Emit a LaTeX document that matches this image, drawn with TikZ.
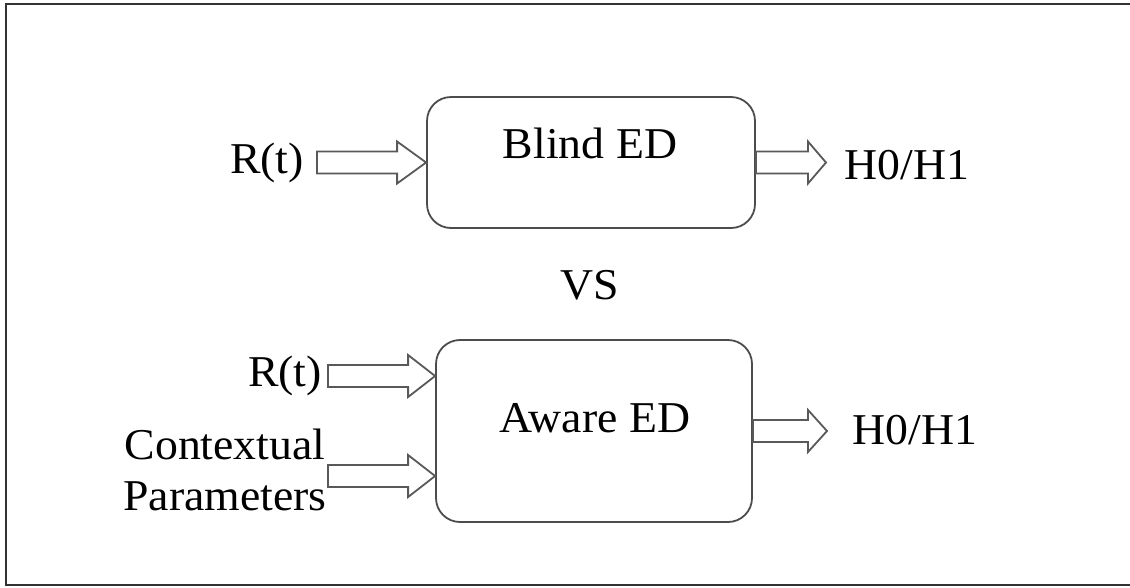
\documentclass[tikz,border=0pt]{standalone}
\usepackage{fontspec}
\setmainfont{Liberation Serif}[FakeStretch=1.04]
\usetikzlibrary{calc}
\tikzset{
  frame/.style={draw=black!80, line width=2pt},
  box/.style={draw=black!70, line width=1.8pt, rounded corners=24pt, inner sep=0pt},
  lbl/.style={inner sep=0pt, font=\fontsize{44}{51}\selectfont, text=black},
  hol/.style={draw=black!65, line width=1.8pt, line join=miter, fill=white},
}
\newcommand\harrow[3]{%
  \draw[hol] let \p1=(#1), \p2=(#2) in
    (\x1,\y2-11pt) -- (\x2-#3,\y2-11pt) -- (\x2-#3,\y2-21pt) -- (\x2,\y2)
    -- (\x2-#3,\y2+21pt) -- (\x2-#3,\y2+11pt) -- (\x1,\y2+11pt) -- cycle;}
\begin{document}
\begin{tikzpicture}[x=1pt,y=-1pt]
\useasboundingbox (0,0) rectangle (1130,587);
\draw[frame] (6,4) rectangle (1140,585);
% boxes
\node[box, minimum width=328pt, minimum height=131pt] (blind) at (591,162.5) {};
\node[box, minimum width=316pt, minimum height=182pt] (aware) at (594,431) {};
\node[lbl] (blindt) at (590,143) {Blind ED};
\node[lbl] (awaret) at (595,418) {Aware ED};
\node[lbl] (vs) at (590,285) {VS};
% labels
\node[lbl] (rt1) at (267,163) {R(t)};
\node[lbl] (h1) at (907,165) {H0/H1};
\node[lbl] (rt2) at (285,376) {R(t)};
\node[lbl, align=center] (ctx) at (225,470) {Contextual\\Parameters};
\node[lbl] (h2) at (915,430) {H0/H1};
% arrow coordinates
\coordinate (s1) at (317,163);
\coordinate (s2) at (328,376);
\coordinate (s3) at (328,476);
\coordinate (t2) at (aware.west |- s2);
\coordinate (t3) at (aware.west |- s3);
\coordinate (o1) at (826,0);
\coordinate (o2) at (827,0);
\coordinate (e1) at (o1 |- blind.east);
\coordinate (e2) at (o2 |- aware.east);
% arrows
\harrow{s1}{blind.west}{29pt}
\harrow{s2}{t2}{27pt}
\harrow{s3}{t3}{27pt}
\harrow{blind.east}{e1}{18pt}
\harrow{aware.east}{e2}{19pt}
\end{tikzpicture}
\end{document}
